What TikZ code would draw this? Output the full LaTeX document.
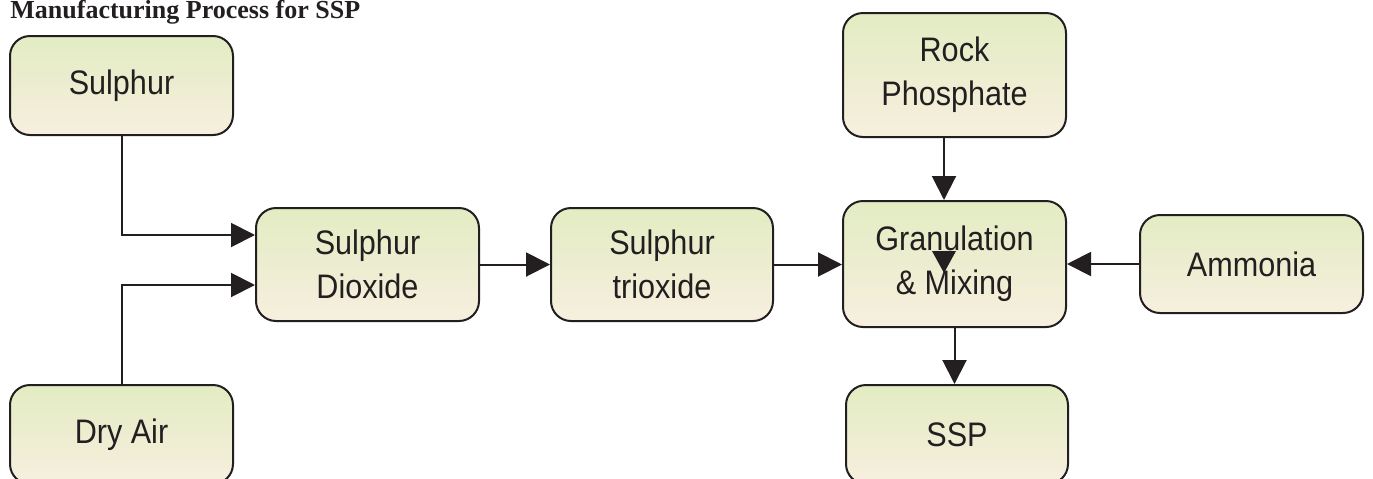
\documentclass[tikz,border=0pt]{standalone}
\usepackage{fontspec}
\setmainfont{Liberation Serif}
\newfontfamily\boxfont[FakeStretch=0.9]{Liberation Sans}
\usetikzlibrary{arrows.meta}
\definecolor{ink}{HTML}{231F20}
\definecolor{topg}{HTML}{E2ECC2}
\definecolor{botg}{HTML}{F7EFDF}
\tikzset{
  procbox/.style={draw=ink, line width=1pt, rounded corners=10pt,
    top color=topg, bottom color=botg, align=center,
    font=\boxfont\fontsize{17}{22}\selectfont, text=ink, inner sep=0pt},
  flow/.style={draw=ink, line width=1pt, -{Triangle[length=12pt,width=12pt]}}
}
\begin{document}
\begin{tikzpicture}[x=0.5pt,y=-0.5pt]
\useasboundingbox (0,0) rectangle (1373,478);
\clip (0,0) rectangle (1373,478);
\node[anchor=base west, font=\bfseries\fontsize{13}{15}\selectfont, text=ink, inner sep=0pt] (title) at (10,18) {Manufacturing Process for SSP};
\node[procbox, minimum width=111.5pt, minimum height=49.5pt] (sul) at (121.5,85.5) {Sulphur};
\node[procbox, minimum width=111.5pt, minimum height=49.5pt] (dry) at (121.5,434.5) {Dry Air};
\node[procbox, minimum width=111.5pt, minimum height=56.5pt] (so2) at (367.5,264.5) {Sulphur\\Dioxide};
\node[procbox, minimum width=111pt, minimum height=56.5pt] (so3) at (662,264.5) {Sulphur\\trioxide};
\node[procbox, minimum width=111.5pt, minimum height=62pt] (rock) at (954.5,75) {Rock\\Phosphate};
\node[procbox, minimum width=111.5pt, minimum height=63pt] (gran) at (954.5,264) {Granulation\\\& Mixing};
\node[procbox, minimum width=111.5pt, minimum height=49pt] (amm) at (1251.5,264) {Ammonia};
\node[procbox, minimum width=111pt, minimum height=49.5pt] (ssp) at (957,434.5) {SSP};
\draw[flow] (sul.south) |- ([yshift=14.75pt]so2.west);
\draw[flow] (dry.north) |- ([yshift=-10.25pt]so2.west);
\draw[flow] (so2.east) -- (so3.west);
\draw[flow] (so3.east) -- (so3.east -| gran.west);
\draw[flow] (amm.west) -- (amm.west -| gran.east);
\draw[flow] ([xshift=-5.25pt]rock.south) -- ([xshift=-5.25pt]gran.north);
\draw[flow] (gran.south) -- (gran.south |- ssp.north);
\fill[ink] (932,251) -- (956,251) -- (944,273) -- cycle;
\end{tikzpicture}
\end{document}
